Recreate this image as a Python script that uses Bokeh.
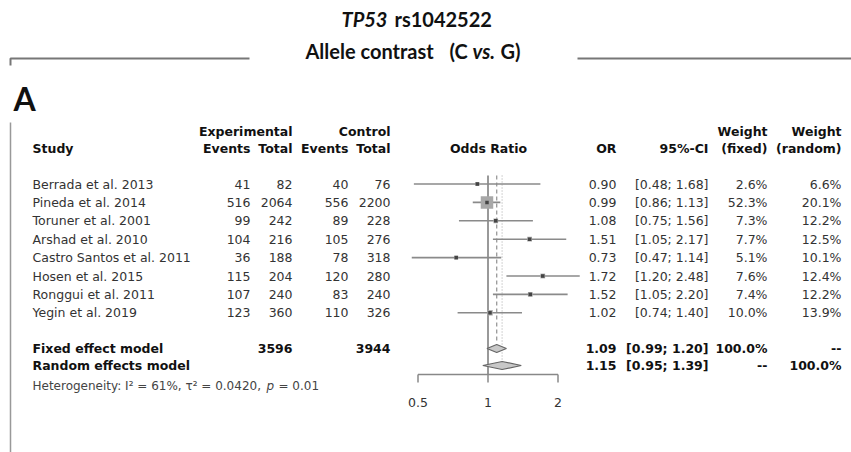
import math
from bokeh.plotting import figure
from bokeh.models import Range1d, LogScale, ColumnDataSource
from bokeh.core.properties import value
from bokeh.embed import file_html
from bokeh.resources import INLINE

# ---------------- data ----------------
studies = ["Berrada et al. 2013", "Pineda et al. 2014", "Toruner et al. 2001",
           "Arshad et al. 2010", "Castro Santos et al. 2011", "Hosen et al. 2015",
           "Ronggui et al. 2011", "Yegin et al.  2019"]
exp_events = [41, 516, 99, 104, 36, 115, 107, 123]
exp_total = [82, 2064, 242, 216, 188, 204, 240, 360]
ctrl_events = [40, 556, 89, 105, 78, 120, 83, 110]
ctrl_total = [76, 2200, 228, 276, 318, 280, 240, 326]
or_est = [0.90, 0.99, 1.08, 1.51, 0.73, 1.72, 1.52, 1.02]
ci_low = [0.48, 0.86, 0.75, 1.05, 0.47, 1.20, 1.05, 0.74]
ci_high = [1.68, 1.13, 1.56, 2.17, 1.14, 2.48, 2.20, 1.40]
w_fixed = [2.6, 52.3, 7.3, 7.7, 5.1, 7.6, 7.4, 10.0]
w_random = [6.6, 20.1, 12.2, 12.5, 10.1, 12.4, 12.2, 13.9]

fixed_or, fixed_lo, fixed_hi = 1.09, 0.99, 1.20
random_or, random_lo, random_hi = 1.15, 0.95, 1.39
exp_sum, ctrl_sum = 3596, 3944
axis_ticks = [0.5, 1, 2]
axis_labels = ["0.5", "1", "2"]

# ---------------- layout ----------------
W, H = 851, 452
X_ONE = 487.5      # pixel of OR = 1
PX_PER_LOG2 = 70.0
Y0, DY = 183.5, 18.4
Y_FIXED, Y_RANDOM, Y_HET = 348, 365, 385
Y_AXIS = 374

FONT = value("DejaVu Sans")
TFONT = value("Lato")

p = figure(width=W, height=H, x_range=Range1d(0, W), y_range=Range1d(H, 0),
           output_backend="svg", toolbar_location=None, min_border=0,
           x_axis_location=None, y_axis_location=None)
p.grid.visible = False
p.outline_line_color = None
p.background_fill_color = "white"
p.extra_x_ranges = {"or": Range1d(2 ** (-X_ONE / PX_PER_LOG2), 2 ** ((W - X_ONE) / PX_PER_LOG2))}
p.extra_x_scales = {"or": LogScale()}

n = len(studies)
ys = [Y0 + i * DY for i in range(n)]
maxw = max(w_fixed)
src = ColumnDataSource(dict(
    y=ys, study=studies,
    ee=[str(v) for v in exp_events], et=[str(v) for v in exp_total],
    ce=[str(v) for v in ctrl_events], ct=[str(v) for v in ctrl_total],
    est=or_est, lo=ci_low, hi=ci_high,
    ors=["%.2f" % v for v in or_est],
    ci=["[%.2f; %.2f]" % (a, b) for a, b in zip(ci_low, ci_high)],
    wf=["%.1f%%" % v for v in w_fixed], wr=["%.1f%%" % v for v in w_random],
    sz=[max(4.0, 12.5 * math.sqrt(w / maxw)) for w in w_fixed],
))

# ---------- title block ----------
def tt(x, y, s, style="bold", size="20px"):
    p.text(x=[x], y=[y], text=[s], text_font=TFONT, text_font_style=style,
           text_font_size=size, text_baseline="middle", text_color="#111")

tt(341, 18, "TP53", "bold italic")
tt(394, 18, "rs1042522")
tt(305, 50, "Allele contrast")
tt(449, 50, "(C")
tt(472, 50, "vs.", "bold italic")
tt(500, 50, "G)")
p.line(x=[10, 10, 249], y=[65, 58, 58], line_color="#777", line_width=2)
p.line(x=[577, W], y=[58, 58], line_color="#777", line_width=2)
tt(13, 98, "A", size="32px")
p.line(x=[10, 10], y=[122, H], line_color="#999", line_width=1.5)

# ---------- headers ----------
def t(x, y, s, align="left", bold=False, size="12.5px", color="#333", style=None):
    p.text(x=[x], y=[y], text=[s], text_font=FONT, text_font_size=size,
           text_align=align, text_baseline="middle", text_color=color,
           text_font_style=style or ("bold" if bold else "normal"))

hb = dict(bold=True, color="#111")
t(32, 148, "Study", **hb)
t(292, 131, "Experimental", "right", **hb)
t(390, 131, "Control", "right", **hb)
t(250, 148, "Events", "right", **hb)
t(292, 148, "Total", "right", **hb)
t(348, 148, "Events", "right", **hb)
t(390, 148, "Total", "right", **hb)
t(488, 148, "Odds Ratio", "center", **hb)
t(616, 148, "OR", "right", **hb)
t(708, 148, "95%-CI", "right", **hb)
t(767, 131, "Weight", "right", **hb)
t(767, 148, "(fixed)", "right", **hb)
t(841, 131, "Weight", "right", **hb)
t(841, 148, "(random)", "right", **hb)

# ---------- study rows ----------
def col(x, field, align):
    p.text(x=x, y="y", text=field, source=src, text_font=FONT, text_font_size="12.5px",
           text_align=align, text_baseline="middle", text_color="#333")

col(32, "study", "left")
col(250, "ee", "right")
col(292, "et", "right")
col(348, "ce", "right")
col(390, "ct", "right")
col(616, "ors", "right")
col(708, "ci", "right")
col(767, "wf", "right")
col(841, "wr", "right")

# ---------- summary rows ----------
sb = dict(bold=True, color="#111")
t(32, Y_FIXED, "Fixed effect model", **sb)
t(292, Y_FIXED, str(exp_sum), "right", **sb)
t(390, Y_FIXED, str(ctrl_sum), "right", **sb)
t(616, Y_FIXED, "%.2f" % fixed_or, "right", **sb)
t(708, Y_FIXED, "[%.2f; %.2f]" % (fixed_lo, fixed_hi), "right", **sb)
t(767, Y_FIXED, "100.0%", "right", **sb)
t(841, Y_FIXED, "--", "right", **sb)
t(32, Y_RANDOM, "Random effects model", **sb)
t(616, Y_RANDOM, "%.2f" % random_or, "right", **sb)
t(708, Y_RANDOM, "[%.2f; %.2f]" % (random_lo, random_hi), "right", **sb)
t(767, Y_RANDOM, "--", "right", **sb)
t(841, Y_RANDOM, "100.0%", "right", **sb)
t(32, Y_HET, "Heterogeneity: I\u00b2 = 61%, \u03c4\u00b2 = 0.0420,", size="12px", color="#444")
t(266, Y_HET, "p", size="12px", color="#444", style="italic")
t(278, Y_HET, "= 0.01", size="12px", color="#444")

# ---------- forest ----------
ytop = 175
p.segment(x0=[1], x1=[1], y0=[ytop], y1=[Y_AXIS], x_range_name="or",
          line_color="#999", line_width=2)
p.segment(x0=[fixed_or], x1=[fixed_or], y0=[ytop], y1=[Y_FIXED - 5], x_range_name="or",
          line_color="#999", line_width=1.3, line_dash="4 3")
p.segment(x0=[random_or], x1=[random_or], y0=[ytop], y1=[Y_RANDOM - 5], x_range_name="or",
          line_color="#bbb", line_width=1.3, line_dash="1 2")

p.segment(x0="lo", x1="hi", y0="y", y1="y", source=src, x_range_name="or",
          line_color="#8a8a8a", line_width=1.6)
p.scatter(x="est", y="y", size="sz", marker="square", source=src, x_range_name="or",
          fill_color="#a8a8a8", line_color=None)
p.scatter(x="est", y="y", size=3.5, marker="square", source=src, x_range_name="or",
          fill_color="#444", line_color=None)

def diamond(est, lo, hi, y, h=4):
    p.patch(x=[lo, est, hi, est], y=[y, y - h, y, y + h], x_range_name="or",
            fill_color="#c8c8c8", line_color="#666", line_width=1.2)

diamond(fixed_or, fixed_lo, fixed_hi, Y_FIXED)
diamond(random_or, random_lo, random_hi, Y_RANDOM)

# axis
p.segment(x0=[axis_ticks[0]], x1=[axis_ticks[-1]], y0=[Y_AXIS], y1=[Y_AXIS],
          x_range_name="or", line_color="#888", line_width=1.5)
p.segment(x0=axis_ticks, x1=axis_ticks, y0=[Y_AXIS] * 3, y1=[Y_AXIS + 8] * 3,
          x_range_name="or", line_color="#888", line_width=1.5)
p.text(x=axis_ticks, y=[402] * 3, text=axis_labels, x_range_name="or",
       text_font=FONT, text_font_size="12.5px", text_align="center",
       text_baseline="middle", text_color="#333")

open("out.html", "w").write(file_html(p, INLINE))
